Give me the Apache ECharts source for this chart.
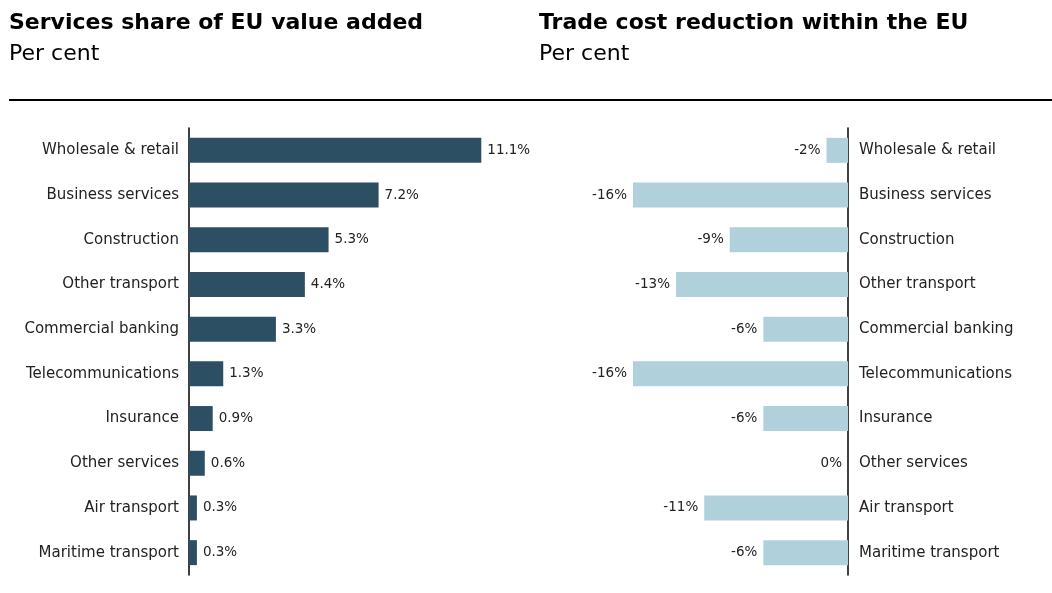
<!DOCTYPE html>
<html>
<head>
<meta charset="utf-8">
<title>Services share and trade cost reduction</title>
<script src="https://cdn.jsdelivr.net/npm/echarts@6/dist/echarts.min.js"></script>
<style>
    html, body { margin: 0; padding: 0; background: #fff; }
    #main { width: 1052px; height: 593px; }
</style>
</head>
<body>
<div id="main"></div>
<script>
    // sectors, top to bottom
    var sectors = ['Wholesale & retail', 'Business services', 'Construction', 'Other transport',
        'Commercial banking', 'Telecommunications', 'Insurance', 'Other services',
        'Air transport', 'Maritime transport'];
    // share of EU value added, per cent
    var shareValues = [11.1, 7.2, 5.3, 4.4, 3.3, 1.3, 0.9, 0.6, 0.3, 0.3];
    // trade cost reduction, per cent (bar lengths)
    var costValues = [-1.6, -16, -8.8, -12.8, -6.3, -16, -6.3, 0, -10.7, -6.3];

    var labelFont = 'DejaVu Sans';
    var myChart = echarts.init(document.getElementById('main'));

    var option = {
        animation: false,
        title: [
            {
                text: 'Services share of EU value added',
                subtext: 'Per cent',
                left: 9, top: 12, padding: 0, itemGap: 9,
                textStyle: { fontFamily: labelFont, fontWeight: 'bold', fontSize: 22, color: '#000' },
                subtextStyle: { fontFamily: labelFont, fontSize: 22, color: '#000' }
            },
            {
                text: 'Trade cost reduction within the EU',
                subtext: 'Per cent',
                left: 539, top: 12, padding: 0, itemGap: 9,
                textStyle: { fontFamily: labelFont, fontWeight: 'bold', fontSize: 22, color: '#000' },
                subtextStyle: { fontFamily: labelFont, fontSize: 22, color: '#000' }
            }
        ],
        graphic: [{
            type: 'line',
            shape: { x1: 9, y1: 100, x2: 1052, y2: 100 },
            style: { stroke: '#000', lineWidth: 2 }
        }],
        grid: [
            { left: 189, top: 128, width: 316, height: 447 },
            { left: 633, top: 128, width: 215, height: 447 }
        ],
        xAxis: [
            { gridIndex: 0, type: 'value', min: 0, max: 12, show: false },
            { gridIndex: 1, type: 'value', min: -16, max: 0, show: false }
        ],
        yAxis: [
            {
                gridIndex: 0, type: 'category', data: sectors, inverse: true,
                axisLine: { lineStyle: { color: '#000', width: 1.5 } },
                axisTick: { show: false },
                axisLabel: { margin: 10, fontFamily: labelFont, fontSize: 15, color: '#222' }
            },
            {
                gridIndex: 1, type: 'category', data: sectors, inverse: true, position: 'right',
                axisLine: { onZero: false, lineStyle: { color: '#000', width: 1.5 } },
                axisTick: { show: false },
                axisLabel: { margin: 11, fontFamily: labelFont, fontSize: 15, color: '#222' }
            }
        ],
        series: [
            {
                type: 'bar', xAxisIndex: 0, yAxisIndex: 0, data: shareValues, barWidth: 25,
                itemStyle: { color: '#2c4f64' },
                label: {
                    show: true, position: 'right', distance: 6,
                    fontFamily: labelFont, fontSize: 13.5, color: '#222',
                    formatter: function (p) { return p.value.toFixed(1) + '%'; }
                }
            },
            {
                type: 'bar', xAxisIndex: 1, yAxisIndex: 1, data: costValues, barWidth: 25,
                itemStyle: { color: '#b0d1dc' },
                label: {
                    show: true, position: 'left', distance: 6,
                    fontFamily: labelFont, fontSize: 13.5, color: '#222',
                    formatter: function (p) { return p.value.toFixed(0) + '%'; }
                }
            }
        ]
    };

    myChart.setOption(option);
</script>
</body>
</html>
